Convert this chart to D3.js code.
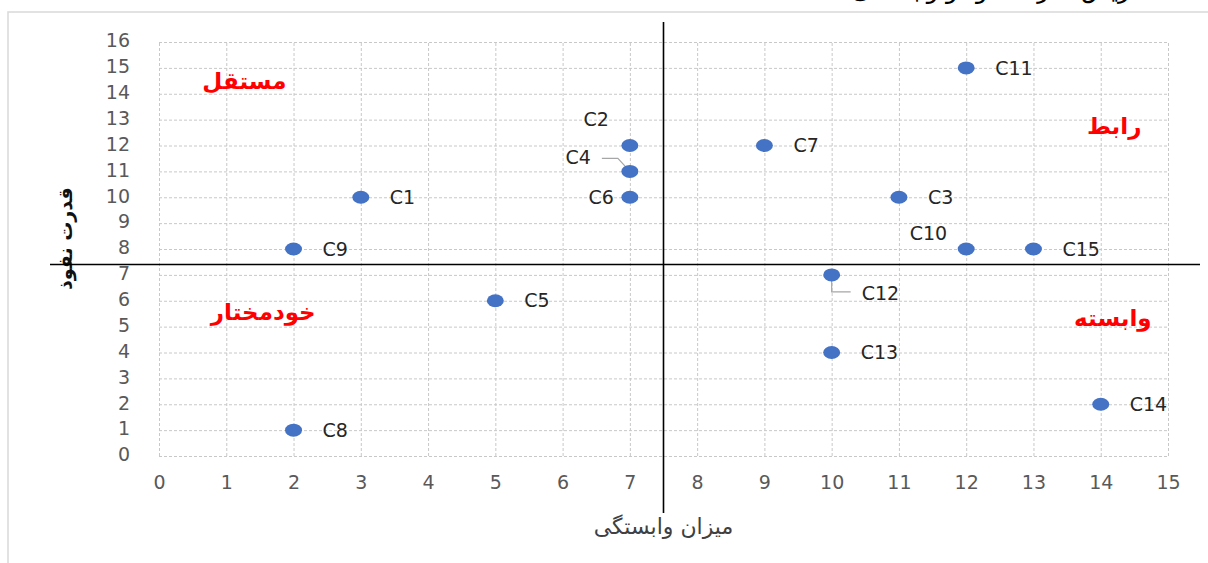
<!DOCTYPE html>
<html>
<head>
<meta charset="utf-8">
<script src="https://cdn.jsdelivr.net/npm/d3@7"></script>
<style>
  body { margin: 0; background: #fff; }
  svg { display: block; font-family: "DejaVu Sans", Tahoma, sans-serif; }
</style>
</head>
<body>
<svg id="chart" width="1208" height="563"></svg>
<script>
/*
** Data
*/
var names   = ["C1","C2","C3","C4","C5","C6","C7","C8","C9","C10","C11","C12","C13","C14","C15"]
  , depend  = [3, 7, 11, 7, 5, 7, 9, 2, 2, 12, 12, 10, 10, 14, 13]   // میزان وابستگی
  , power   = [10, 12, 10, 11, 6, 10, 12, 1, 8, 8, 15, 7, 4, 2, 8]   // قدرت نفوذ
  , xTicks  = d3.range(0, 16)
  , yTicks  = d3.range(0, 17)
  , quadrants = [
        { text: "مستقل",    x: 1.27, y: 14.5 }
      , { text: "رابط",     x: 14.2, y: 12.75 }
      , { text: "خودمختار", x: 1.55, y: 5.55 }
      , { text: "وابسته",   x: 14.18, y: 5.33 }
    ]
  , splitX = 7.5
  , splitY = 7.4
;

/*
** Label placement (pixels from the point)
*/
var place = {
    "C2":  { dx: -21, dy: -26, anchor: "end" }
  , "C4":  { dx: -39, dy: -14, anchor: "end", leader: [[-28,-13],[-12,-13],[0,0]] }
  , "C6":  { dx: -16, dy: 0,   anchor: "end" }
  , "C10": { dx: -19, dy: -16, anchor: "end" }
  , "C12": { dx: 30,  dy: 18,  anchor: "start", leader: [[0,5],[0,17],[19,17]] }
};

var svg = d3.select("#chart")
  , margin = { left: 159, right: 40, top: 42, bottom: 107 }
  , width = 1208 - margin.left - margin.right
  , height = 563 - margin.top - margin.bottom
  , x = d3.scaleLinear().domain([0, 15]).range([margin.left, margin.left + width])
  , y = d3.scaleLinear().domain([0, 16]).range([margin.top + height, margin.top])
;

// cut-off document text above the chart
svg.append("text")
    .attr("x", 1158).attr("y", -2)
    .attr("text-anchor", "end")
    .style("font-size", "24px")
    .attr("fill", "#000")
    .text("ماتریس قدرت نفوذ و وابستگی")
;

// chart frame
svg.append("rect")
    .attr("x", 8).attr("y", 12)
    .attr("width", 1220).attr("height", 570)
    .attr("fill", "none")
    .attr("stroke", "#d9d9d9")
    .attr("stroke-width", 1.5)
;

/*
** Grid
*/
svg.append("g")
    .attr("transform", "translate(0," + (margin.top + height) + ")")
    .call(d3.axisBottom(x).tickValues(xTicks).tickSize(-height).tickFormat(""))
    .call(function(g) { g.select(".domain").remove(); })
  .selectAll("line")
    .attr("stroke", "#c8c8c8")
    .attr("stroke-dasharray", "3 2")
;
svg.append("g")
    .attr("transform", "translate(" + margin.left + ",0)")
    .call(d3.axisLeft(y).tickValues(yTicks).tickSize(-width).tickFormat(""))
    .call(function(g) { g.select(".domain").remove(); })
  .selectAll("line")
    .attr("stroke", "#c8c8c8")
    .attr("stroke-dasharray", "3 2")
;

/*
** Tick labels
*/
var xAxis = svg.append("g")
    .attr("transform", "translate(0," + (margin.top + height) + ")")
    .call(d3.axisBottom(x).tickValues(xTicks).tickSize(0).tickPadding(20))
;
var yAxis = svg.append("g")
    .attr("transform", "translate(" + (margin.left - 29) + ",0)")
    .call(d3.axisLeft(y).tickValues(yTicks).tickSize(0).tickPadding(0))
;
[xAxis, yAxis].forEach(function(g) {
    g.select(".domain").remove();
    g.selectAll("text")
        .attr("fill", "#595959")
        .style("font-family", "DejaVu Sans, sans-serif")
        .style("font-size", "19px");
});
yAxis.selectAll("text").attr("dy", "0.25em");

// axis titles
svg.append("text")
    .attr("x", x(splitX)).attr("y", 534)
    .attr("text-anchor", "middle")
    .attr("fill", "#404040")
    .style("font-size", "22px")
    .text("میزان وابستگی")
;
svg.append("text")
    .attr("transform", "translate(72," + y(8.4) + ") rotate(-90)")
    .attr("text-anchor", "middle")
    .attr("fill", "#111")
    .style("font-size", "19px")
    .style("font-weight", "bold")
    .text("قدرت نفوذ")
;

// quadrant dividers
svg.append("line")
    .attr("x1", x(splitX)).attr("x2", x(splitX))
    .attr("y1", 22).attr("y2", 513)
    .attr("stroke", "#000").attr("stroke-width", 1.6)
;
svg.append("line")
    .attr("x1", 50).attr("x2", 1200)
    .attr("y1", y(splitY)).attr("y2", y(splitY))
    .attr("stroke", "#000").attr("stroke-width", 1.6)
;

// quadrant names
svg.append("g").selectAll("text")
    .data(quadrants)
  .join("text")
    .attr("x", function(d) { return x(d.x); })
    .attr("y", function(d) { return y(d.y); })
    .attr("text-anchor", "middle")
    .attr("dy", "0.35em")
    .attr("fill", "#ff0000")
    .style("font-size", "23px")
    .style("font-weight", "bold")
    .text(function(d) { return d.text; })
;

/*
** Points and labels
*/
var pts = names.map(function(n, i) { return { name: n, x: depend[i], y: power[i] }; });

svg.append("g").selectAll("path")
    .data(pts.filter(function(d) { return place[d.name] && place[d.name].leader; }))
  .join("path")
    .attr("d", function(d) {
        var px = x(d.x), py = y(d.y);
        return d3.line()(place[d.name].leader.map(function(p) { return [px + p[0], py + p[1]]; }));
      })
    .attr("fill", "none")
    .attr("stroke", "#a6a6a6")
    .attr("stroke-width", 1.2)
;

svg.append("g").selectAll("ellipse")
    .data(pts)
  .join("ellipse")
    .attr("cx", function(d) { return x(d.x); })
    .attr("cy", function(d) { return y(d.y); })
    .attr("rx", 8.5).attr("ry", 6.5)
    .attr("fill", "#4472c4")
;

svg.append("g").selectAll("text")
    .data(pts)
  .join("text")
    .each(function(d) {
        var p = place[d.name] || { dx: 29, dy: 0, anchor: "start" };
        d3.select(this)
            .attr("x", x(d.x) + p.dx)
            .attr("y", y(d.y) + p.dy)
            .attr("text-anchor", p.anchor);
      })
    .attr("dy", "0.35em")
    .attr("fill", "#262626")
    .style("font-size", "19px")
    .text(function(d) { return d.name; })
;
</script>
</body>
</html>
